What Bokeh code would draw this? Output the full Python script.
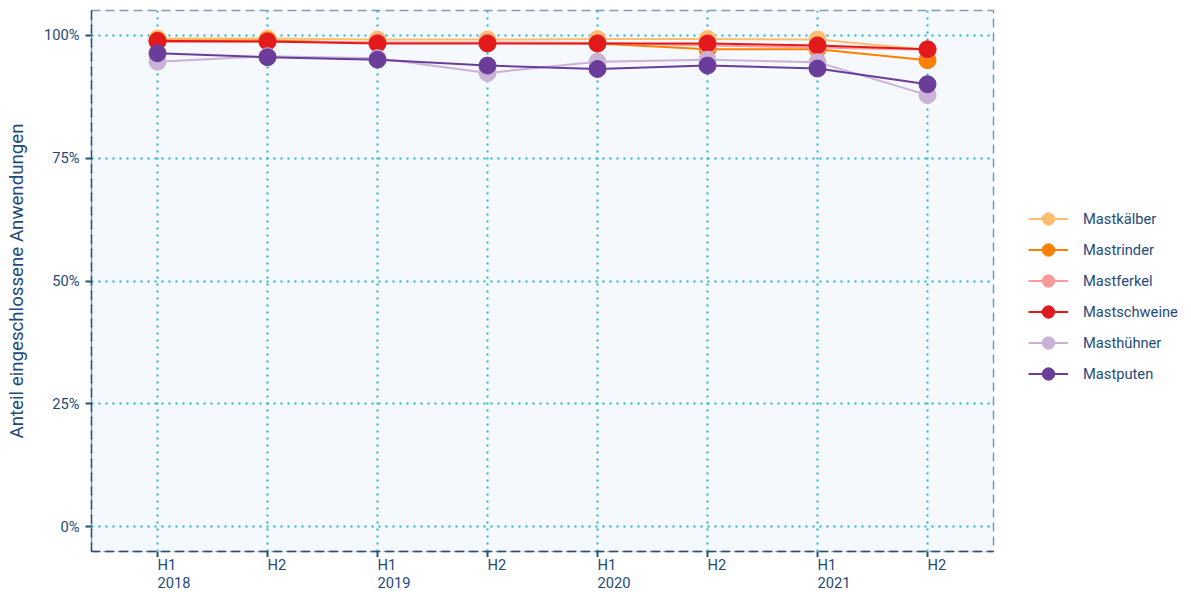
from bokeh.plotting import figure
from bokeh.models import FixedTicker, Legend, LegendItem, Range1d
from bokeh.layouts import column
from bokeh.embed import file_html
from bokeh.resources import INLINE
from bokeh.core.properties import value

periods = ["H1\n2018", "H2", "H1\n2019", "H2", "H1\n2020", "H2", "H1\n2021", "H2"]
y_ticks = [0, 25, 50, 75, 100]
y_tick_labels = ["0%", "25%", "50%", "75%", "100%"]

species = ["Mastkälber", "Mastrinder", "Mastferkel", "Mastschweine", "Masthühner", "Mastputen"]
colors = ["#FDBF6F", "#FF7F00", "#FB9A99", "#E31A1C", "#CAB2D6", "#6A3D9A"]

mastkaelber = [99.3, 99.3, 99.1, 99.1, 99.2, 99.2, 99.1, 97.0]
mastrinder = [98.9, 98.9, 98.4, 98.4, 98.3, 97.1, 97.1, 94.9]
mastferkel = [98.6, 98.7, 98.5, 98.5, 98.4, 97.9, 97.5, 97.0]
mastschweine = [98.8, 98.7, 98.3, 98.3, 98.3, 98.3, 97.9, 97.1]
masthuehner = [94.6, 95.7, 95.3, 92.3, 94.6, 95.0, 94.5, 87.8]
mastputen = [96.3, 95.5, 95.0, 93.8, 93.1, 93.8, 93.2, 90.0]

series = [mastkaelber, mastrinder, mastferkel, mastschweine, masthuehner, mastputen]

navy = "#1F4A7A"
font = "Roboto"

x = list(range(len(periods)))
x_range = Range1d(-0.6, len(periods) - 1 + 0.6)

p = figure(frame_width=902, frame_height=541, output_backend="svg", toolbar_location=None,
           x_range=x_range, y_range=Range1d(-5, 105),
           min_border_left=91, min_border_top=10, min_border_bottom=0, min_border_right=190)

p.background_fill_color = "#F5F9FD"
p.border_fill_color = "white"
p.outline_line_color = "#7F9BB8"
p.outline_line_dash = "9 5"
p.outline_line_width = 1.5

p.xaxis.ticker = FixedTicker(ticks=x)
p.xaxis.major_label_overrides = {i: "" for i in x}
p.xaxis.major_label_standoff = 0
p.yaxis.ticker = FixedTicker(ticks=y_ticks)
p.yaxis.major_label_overrides = {t: l for t, l in zip(y_ticks, y_tick_labels)}

for ax in (p.xaxis[0], p.yaxis[0]):
    ax.axis_line_color = "#2A4E75"
    ax.axis_line_dash = "9 5"
    ax.axis_line_width = 1.5
    ax.major_tick_line_color = "#2A4E75"
    ax.major_tick_line_width = 2
    ax.major_tick_out = 6
    ax.major_tick_in = 0
    ax.minor_tick_line_color = None

p.yaxis.major_label_text_color = navy
p.yaxis.major_label_text_font = font
p.yaxis.major_label_text_font_size = "14.7px"
p.yaxis.major_label_standoff = 6
p.yaxis.axis_label = "Anteil eingeschlossene Anwendungen"
p.yaxis.axis_label_text_font = font
p.yaxis.axis_label_text_font_style = "normal"
p.yaxis.axis_label_text_font_size = "18.7px"
p.yaxis.axis_label_text_color = navy
p.yaxis.axis_label_standoff = 13

for g in (p.xgrid[0], p.ygrid[0]):
    g.grid_line_color = "#1BB8CC"
    g.grid_line_dash = "2 5"
    g.grid_line_width = 2

items = []
for name, vals, c in zip(species, series, colors):
    r1 = p.line(x, vals, line_color=c, line_width=2)
    r2 = p.scatter(x, vals, size=17, fill_color=c, line_color=c, marker="circle")
    items.append(LegendItem(label=name, renderers=[r1, r2]))

legend = Legend(items=items, location=(35, 162), orientation="vertical",
                glyph_width=40, glyph_height=31, label_height=24, spacing=0,
                label_standoff=15, margin=0, padding=0,
                label_text_font=font, label_text_font_size="14.7px", label_text_color=navy,
                border_line_color=None, background_fill_alpha=0)
p.add_layout(legend, "right")

# strip below the frame carrying the x tick labels, left-aligned at each tick
p2 = figure(frame_width=902, height=34, output_backend="svg", toolbar_location=None,
            x_range=x_range, y_range=Range1d(0, 1),
            min_border_left=91, min_border_right=190, min_border_top=0, min_border_bottom=0)
p2.axis.visible = False
p2.grid.visible = False
p2.outline_line_color = None
p2.background_fill_color = "white"
p2.text(x=x, y=[1] * len(x), text=periods, text_align="left", text_baseline="top",
        y_offset=-2, text_font=value(font), text_font_size="14.7px", text_color=navy,
        text_line_height=1.05)

open("out.html", "w").write(file_html(column(p, p2), INLINE))
